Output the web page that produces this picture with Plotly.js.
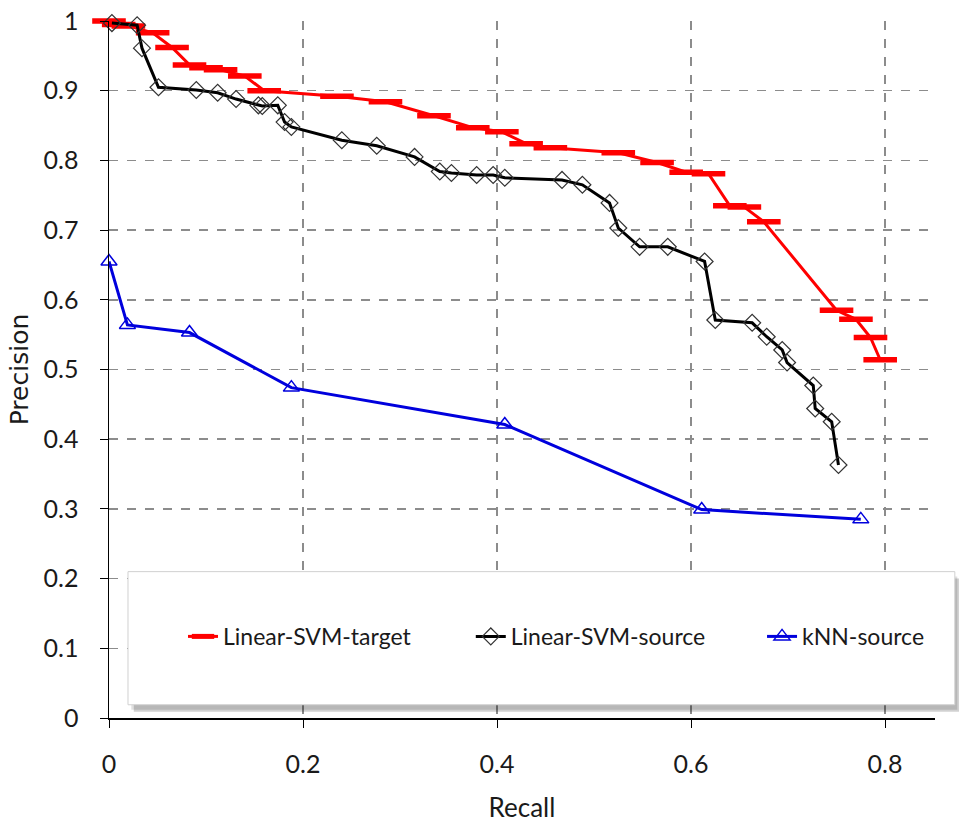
<!DOCTYPE html>
<html>
<head>
<meta charset="utf-8">
<script src="https://cdn.plot.ly/plotly-3.0.1.min.js"></script>
<style>html,body{margin:0;padding:0;background:#fff;}#chart{width:959px;height:823px;}</style>
</head>
<body>
<div id="chart"></div>
<script>
// Linear-SVM-target
const targetRecall = [0.000,0.010,0.020,0.045,0.065,0.083,0.100,0.115,0.140,0.160,0.235,0.285,0.335,0.375,0.405,0.430,0.455,0.525,0.565,0.595,0.618,0.640,0.655,0.675,0.750,0.770,0.785,0.795];
const targetPrecision = [1.000,0.995,0.993,0.983,0.962,0.937,0.933,0.930,0.921,0.900,0.892,0.884,0.864,0.847,0.841,0.824,0.818,0.811,0.797,0.783,0.781,0.735,0.733,0.712,0.585,0.572,0.546,0.514];
// Linear-SVM-source
const sourceRecall = [0.003,0.029,0.034,0.051,0.090,0.112,0.131,0.154,0.158,0.174,0.181,0.188,0.240,0.276,0.315,0.341,0.353,0.379,0.396,0.408,0.467,0.488,0.516,0.525,0.547,0.576,0.614,0.625,0.663,0.678,0.694,0.699,0.726,0.728,0.745,0.752];
const sourcePrecision = [0.997,0.994,0.961,0.905,0.901,0.897,0.888,0.879,0.878,0.879,0.855,0.848,0.829,0.821,0.805,0.784,0.782,0.779,0.779,0.775,0.772,0.765,0.739,0.703,0.676,0.676,0.655,0.571,0.567,0.547,0.528,0.510,0.477,0.444,0.425,0.363];
// kNN-source
const knnRecall = [0.000,0.019,0.083,0.188,0.408,0.611,0.775];
const knnPrecision = [0.655,0.564,0.553,0.474,0.421,0.299,0.285];

const seriesNames = ['Linear-SVM-target','Linear-SVM-source','kNN-source'];
const xTickVals = [0,0.2,0.4,0.6,0.8];
const xTickText = ['0','0.2','0.4','0.6','0.8'];
const yTickVals = [0,0.1,0.2,0.3,0.4,0.5,0.6,0.7,0.8,0.9,1];
const yTickText = ['0','0.1','0.2','0.3','0.4','0.5','0.6','0.7','0.8','0.9','1'];

const FONT = 'Lato, "Open Sans", sans-serif';
const TXT = '#1a1a1a';

const traces = [
  {x: targetRecall, y: targetPrecision, name: seriesNames[0], type:'scatter', mode:'lines+markers',
   line:{color:'#ff0000', width:3}, cliponaxis:false,
   marker:{symbol:'line-ew', size:24, color:'#ff0000', line:{color:'#ff0000', width:5.5}}, legend:'legend'},
  {x: sourceRecall, y: sourcePrecision, name: seriesNames[1], type:'scatter', mode:'lines+markers',
   line:{color:'#000000', width:3}, cliponaxis:false,
   marker:{symbol:'diamond-open', size:13, color:'#333333', line:{color:'#333333', width:1.2}}, legend:'legend2'},
  {x: knnRecall, y: knnPrecision, name: seriesNames[2], type:'scatter', mode:'lines+markers',
   line:{color:'#0000dd', width:3}, cliponaxis:false,
   marker:{symbol:'triangle-up-open', size:14, color:'#0000dd', line:{color:'#0000dd', width:1.5}}, legend:'legend3'}
];

const legBase = {orientation:'h', bgcolor:'rgba(0,0,0,0)', borderwidth:0, font:{family:FONT, size:23, color:TXT}, yanchor:'middle', xanchor:'left', y:0.117};

const layout = {
  width:959, height:823,
  showlegend:true,
  margin:{l:109, r:24, t:21, b:104.5},
  paper_bgcolor:'#fff', plot_bgcolor:'#fff',
  font:{family:FONT, size:25, color:TXT},
  xaxis:{range:[0,0.8515], tickvals:xTickVals, ticktext:xTickText, showgrid:true, gridcolor:'#8c8c8c', gridwidth:1.5, griddash:'dash',
         zeroline:false, showline:true, linecolor:'#000', linewidth:1.5, ticks:'outside', ticklen:8, tickcolor:'#000', tickwidth:1,
         ticklabelstandoff:15, tickfont:{family:FONT, size:25, color:TXT},
         title:{text:'Recall', font:{family:FONT, size:26, color:TXT}, standoff:24}},
  yaxis:{range:[0,1], tickvals:yTickVals, ticktext:yTickText, showgrid:true, gridcolor:'#8c8c8c', gridwidth:1.5, griddash:'dash',
         zeroline:false, showline:true, linecolor:'#000', linewidth:1.5, ticks:'outside', ticklen:8, tickcolor:'#000', tickwidth:1,
         ticklabelstandoff:16, tickfont:{family:FONT, size:25, color:TXT},
         title:{text:'Precision', font:{family:'"DejaVu Sans", sans-serif', size:25, color:TXT}, standoff:8}},
  legend:Object.assign({}, legBase, {x:0.0896}),
  legend2:Object.assign({}, legBase, {x:0.438}),
  legend3:Object.assign({}, legBase, {x:0.7906}),
  shapes:[
    {type:'rect', xref:'paper', yref:'paper', x0:0.030, x1:1.030, y0:0.009, y1:0.200, layer:'above', line:{width:0}, fillcolor:'rgba(0,0,0,0.18)'},
    {type:'rect', xref:'paper', yref:'paper', x0:0.027, x1:1.027, y0:0.012, y1:0.203, layer:'above', line:{width:0}, fillcolor:'rgba(0,0,0,0.12)'},
    {type:'rect', xref:'paper', yref:'paper', x0:0.023, x1:1.024, y0:0.019, y1:0.210, layer:'above', line:{width:1, color:'#d0d0d0'}, fillcolor:'#ffffff'}
  ]
};

Plotly.newPlot('chart', traces, layout, {displayModeBar:false, staticPlot:true});
</script>
</body>
</html>
